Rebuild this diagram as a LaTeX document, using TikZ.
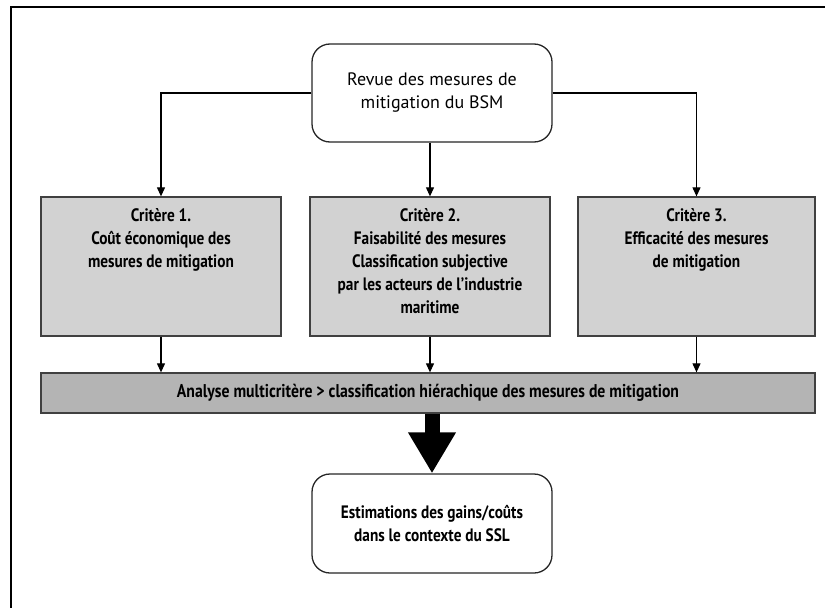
\documentclass[tikz,border=0pt]{standalone}
\usepackage{fontspec}
\setmainfont{PT Sans}
\newfontfamily\condfont{PT Sans}[FakeStretch=0.85]
\usetikzlibrary{arrows.meta}
\definecolor{boxgray}{HTML}{D2D2D2}
\definecolor{bargray}{HTML}{B4B4B4}
\begin{document}
\begin{tikzpicture}[x=1pt,y=-1pt,
  rbox/.style={draw=black!85, line width=1.3pt, rounded corners=18pt, fill=white, align=center, inner sep=0pt},
  critbox/.style={draw=black!75, line width=1.3pt, fill=boxgray, minimum height=139pt, inner sep=0pt},
  crittext/.style={align=center, anchor=north, font=\condfont\bfseries\fontsize{18}{23}\selectfont, inner sep=0pt},
  conn/.style={line width=1.1pt, -{Triangle[length=9pt,width=8pt]}},
  bigarrow/.style={line width=15pt, -{Triangle[length=41pt,width=45pt]}}
]
\useasboundingbox (0,0) rectangle (825,608);
\draw[line width=2pt] (11,608) -- (11,7) -- (825,7);

\node[rbox, minimum width=240pt, minimum height=98pt, font=\fontsize{18}{23}\selectfont] (top) at (432,93) {Revue des mesures de\\mitigation du BSM};

\node[critbox, minimum width=240pt] (b1) at (161,266.5) {};
\node[critbox, minimum width=240pt] (b2) at (430,266.5) {};
\node[critbox, minimum width=237pt] (b3) at (696.5,266.5) {};

\node[crittext] (t1) at ([yshift=-12pt]b1.north) {Critère 1.\\Coût économique des\\mesures de mitigation};
\node[crittext] (t2) at ([yshift=-12pt]b2.north) {Critère 2.\\Faisabilité des mesures\\Classification subjective\\par les acteurs de l’industrie\\maritime};
\node[crittext] (t3) at ([yshift=-12pt]b3.north) {Critère 3.\\Efficacité des mesures\\de mitigation};

\node[draw=black!75, line width=1.3pt, fill=bargray, minimum width=774pt, minimum height=40pt, inner sep=0pt,
  font=\condfont\bfseries\fontsize{18.5}{20}\selectfont] (bar) at (428,393) {Analyse multicritère > classification hiérachique des mesures de mitigation};

\node[rbox, minimum width=240pt, minimum height=99pt, font=\condfont\bfseries\fontsize{18}{23}\selectfont] (bot) at (432,523.5) {Estimations des gains/coûts\\dans le contexte du SSL};

\draw[conn] (top.west) -| (b1.north);
\draw[conn] (top.east) -| (b3.north);
\draw[conn] (top.south -| b2.north) -- (b2.north);
\draw[conn] (b1.south) -- (b1.south |- bar.north);
\draw[conn] (b2.south) -- (b2.south |- bar.north);
\draw[conn] (b3.south) -- (b3.south |- bar.north);
\draw[bigarrow] (bot.north |- bar.south) -- (bot.north);
\end{tikzpicture}
\end{document}
